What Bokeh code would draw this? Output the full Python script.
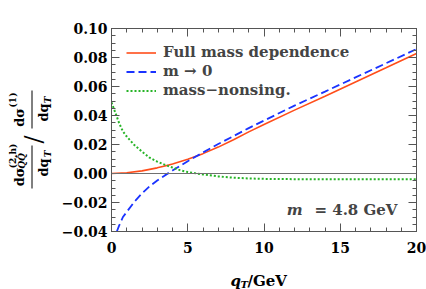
import math
from bokeh.plotting import figure
from bokeh.layouts import row, column
from bokeh.models import (Range1d, FixedTicker, CustomJSTickFormatter, LinearAxis,
                          Span, Label, Legend, LegendItem)
from bokeh.embed import file_html
from bokeh.resources import INLINE

# ---- data ----
qt_full = [0, 1, 2, 3, 3.5, 4, 5, 6, 7, 8, 9, 10, 12, 14, 16, 18, 20]
full_mass = [0.0, 0.0005, 0.0018, 0.0039, 0.0052, 0.0066, 0.0098, 0.0137, 0.0182,
             0.0233, 0.0287, 0.0338, 0.0437, 0.0533, 0.0631, 0.0729, 0.0828]

qt_massless = [0.35, 0.5, 0.75, 1, 1.5, 2, 2.5, 3, 3.5, 4, 5, 6, 7, 8, 9, 10,
               12, 14, 16, 18, 20]
massless = [-0.040, -0.036, -0.030, -0.0265, -0.0195, -0.0137, -0.0088, -0.0048,
            -0.0013, 0.002, 0.0085, 0.0145, 0.0203, 0.0258, 0.0313, 0.0365,
            0.0468, 0.0565, 0.0663, 0.076, 0.0858]

qt_nonsing = [0, 0.25, 0.5, 0.75, 1, 1.5, 2, 2.5, 3, 3.5, 4, 4.5, 5, 6, 7, 8, 9,
              10, 12, 14, 16, 18, 20]
nonsing = [0.049, 0.042, 0.0348, 0.029, 0.0255, 0.0196, 0.0151, 0.0109, 0.0082,
           0.006, 0.0041, 0.0023, 0.001, -0.0007, -0.002, -0.0029, -0.0034,
           -0.0037, -0.0039, -0.004, -0.004, -0.004, -0.004]

series_labels = ["Full mass dependence", "m \u2192 0", "mass\u2212nonsing."]

x_ticks = [0, 5, 10, 15, 20]
x_tick_labels = ["0", "5", "10", "15", "20"]
y_ticks = [-0.04, -0.02, 0.0, 0.02, 0.04, 0.06, 0.08, 0.10]
y_tick_labels = ["\u22120.04", "\u22120.02", "0.00", "0.02", "0.04", "0.06", "0.08", "0.10"]
x_minor = [i for i in range(0, 21)]
y_minor = [round(-0.04 + 0.005 * i, 4) for i in range(0, 29)]

FONT = "DejaVu Serif"
AX = "#555555"
RED = "#FF4D1A"
BLUE = "#1A33FF"
GREEN = "#27B427"

LEFT_W = 58          # width of the y-label strip
MAIN_H = 258         # height of the main row
TOTAL_W, TOTAL_H = 426, 289

# ---------------- main plot ----------------
p = figure(width=TOTAL_W - LEFT_W, height=MAIN_H, output_backend="svg",
           toolbar_location=None,
           x_range=Range1d(0, 20), y_range=Range1d(-0.04, 0.10),
           min_border_left=111 - LEFT_W, min_border_right=10, min_border_top=28,
           min_border_bottom=MAIN_H - 231)
p.xgrid.visible = False
p.ygrid.visible = False
p.outline_line_color = AX
p.background_fill_color = "white"
p.border_fill_color = "white"

CODE = "const i = tv.findIndex(t => Math.abs(t - tick) < 1e-9); return i >= 0 ? tl[i] : '';"
fmt_x = CustomJSTickFormatter(args=dict(tv=x_ticks, tl=x_tick_labels), code=CODE)
fmt_y = CustomJSTickFormatter(args=dict(tv=y_ticks, tl=y_tick_labels), code=CODE)
blank = CustomJSTickFormatter(code="return '';")
blank2 = CustomJSTickFormatter(code="return '';")

def style_axis(ax, show_labels):
    ax.axis_line_color = AX
    ax.major_tick_line_color = AX
    ax.minor_tick_line_color = AX
    ax.major_tick_in = 8
    ax.major_tick_out = 0
    ax.minor_tick_in = 4
    ax.minor_tick_out = 0
    ax.major_label_text_font = FONT
    ax.major_label_text_font_style = "bold"
    ax.major_label_text_color = "black"
    if show_labels:
        ax.major_label_text_font_size = "14px"
    else:
        ax.major_label_text_font_size = "0px"
        ax.major_label_standoff = 0

p.xaxis.ticker = FixedTicker(ticks=x_ticks, minor_ticks=x_minor)
p.xaxis.formatter = fmt_x
p.yaxis.ticker = FixedTicker(ticks=y_ticks, minor_ticks=y_minor)
p.yaxis.formatter = fmt_y
for ax in p.xaxis:
    style_axis(ax, True)
    ax.major_label_standoff = 10
for ax in p.yaxis:
    style_axis(ax, True)
    ax.major_label_standoff = 4

top_ax = LinearAxis(ticker=FixedTicker(ticks=x_ticks, minor_ticks=x_minor), formatter=blank)
style_axis(top_ax, False)
p.add_layout(top_ax, "above")
right_ax = LinearAxis(ticker=FixedTicker(ticks=y_ticks, minor_ticks=y_minor), formatter=blank2)
style_axis(right_ax, False)
p.add_layout(right_ax, "right")

p.add_layout(Span(location=0, dimension="width", line_color="#707070", line_width=1))

r_full = p.line(qt_full, full_mass, line_color=RED, line_width=1.6)
r_ml = p.line(qt_massless, massless, line_color=BLUE, line_width=1.8, line_dash="8 4")
r_ns = p.line(qt_nonsing, nonsing, line_color=GREEN, line_width=2, line_dash="2 2")

legend = Legend(items=[LegendItem(label=series_labels[0], renderers=[r_full]),
                       LegendItem(label=series_labels[1], renderers=[r_ml]),
                       LegendItem(label=series_labels[2], renderers=[r_ns])],
                location="top_left", border_line_color=None, background_fill_alpha=0,
                label_text_font=FONT, label_text_font_style="bold",
                label_text_font_size="15px", glyph_width=30, glyph_height=17,
                label_height=17, spacing=1, padding=0, margin=15, label_standoff=7)
p.add_layout(legend, "center")

# annotation inside frame (screen units relative to frame; frame at page x=111, bottom y=231)
FL, FB = 111, 231
p.add_layout(Label(x=302 - FL, y=FB - 209, x_units="screen", y_units="screen", text="m",
                   text_font=FONT, text_font_style="bold italic", text_font_size="15px",
                   text_align="right", text_baseline="alphabetic"))
p.add_layout(Label(x=397 - FL, y=FB - 209, x_units="screen", y_units="screen",
                   text="= 4.8 GeV", text_font=FONT, text_font_style="bold",
                   text_font_size="15px", text_align="right", text_baseline="alphabetic"))

def strip(w, h, x0, x1, y0, y1):
    f = figure(frame_width=w, frame_height=h, output_backend="svg", toolbar_location=None,
               x_range=Range1d(x0, x1), y_range=Range1d(y1, y0),
               x_axis_location=None, y_axis_location=None, min_border=0,
               min_border_left=0, min_border_right=0, min_border_top=0,
               min_border_bottom=0, outline_line_color=None)
    f.grid.visible = False
    return f

def lab(fig, text, X, Y, size, style="bold", align="center", baseline="middle", angle=0.0):
    fig.add_layout(Label(x=X, y=Y, text=text, text_font=FONT, text_font_style=style,
                         text_font_size=f"{size}px", text_color="black",
                         text_align=align, text_baseline=baseline, angle=angle))

# ---------------- y-label strip (page coordinates) ----------------
yl = strip(LEFT_W, MAIN_H, 0, LEFT_W, 0, MAIN_H)
R = math.pi / 2
lab(yl, "d\u03c3", 19, 148.5, 13, angle=R)
lab(yl, "(2,h)", 12.5, 127.5, 9, angle=R)
lab(yl, "Q\u0051\u0304", 21.5, 132.5, 9, style="bold italic", angle=R)
yl.line([31.5, 31.5], [117, 160], line_color="black", line_width=1)
lab(yl, "dq", 43, 139, 13, angle=R)
lab(yl, "T", 47, 125.5, 9, style="bold italic", angle=R)
lab(yl, "/", 33, 111, 24, style="normal", angle=R)
lab(yl, "d\u03c3", 19, 89, 13, angle=R)
lab(yl, "(1)", 12.5, 71.5, 9, angle=R)
yl.line([31.5, 31.5], [62, 100], line_color="black", line_width=1)
lab(yl, "dq", 43, 84, 13, angle=R)
lab(yl, "T", 47, 71.5, 9, style="bold italic", angle=R)

# ---------------- x-label strip (page coordinates) ----------------
xl = strip(TOTAL_W, TOTAL_H - MAIN_H, 0, TOTAL_W, MAIN_H, TOTAL_H)
lab(xl, "q", 230, 280.5, 15, style="bold italic", align="left", baseline="alphabetic")
lab(xl, "T", 240, 283.5, 10, style="bold italic", align="left", baseline="alphabetic")
lab(xl, "/GeV", 247, 280.5, 15, align="left", baseline="alphabetic")

layout = column(row(yl, p, spacing=0), xl, spacing=0)
open("out.html", "w").write(file_html(layout, INLINE))
